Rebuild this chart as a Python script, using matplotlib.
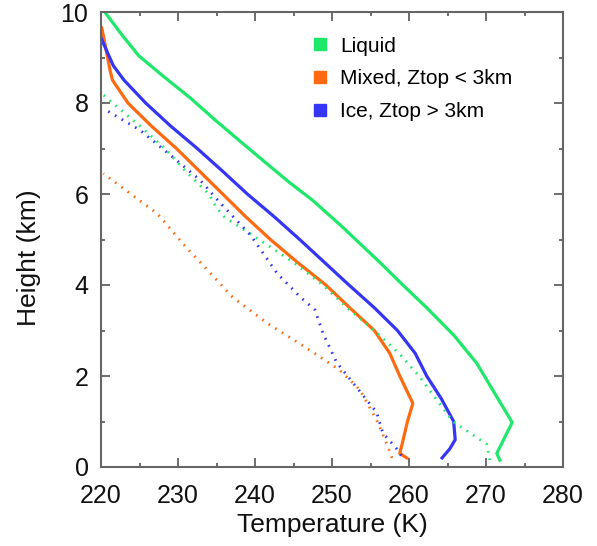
import numpy as np
import matplotlib.pyplot as plt
from matplotlib.lines import Line2D
from matplotlib.ticker import MultipleLocator

plt.rcParams['font.family'] = ['Liberation Sans', 'DejaVu Sans']

green = "#1ee86a"
orange = "#ff6a10"
blue = "#3535f5"

# solid profiles
liq_h = [0.15, 0.3, 0.98, 1.6, 2.28, 2.9, 3.5, 4.0, 4.5, 5.3, 5.86, 6.25, 6.7, 7.17, 7.6, 8.11, 8.6, 9.04, 9.5, 10.0]
liq_t = [271.8, 271.4, 273.4, 271.2, 268.8, 265.8, 262.3, 259.2, 256.2, 251.2, 247.5, 244.5, 241.3, 238.0,
         235.0, 231.6, 228.0, 224.9, 222.7, 220.5]

mix_h = [0.2, 0.3, 0.5, 1.0, 1.4, 2.0, 2.5, 3.0, 3.5, 4.0, 4.5, 5.0, 5.5, 6.0, 6.5, 7.0, 7.5, 8.0, 8.5, 8.7, 9.65]
mix_t = [259.7, 258.8, 259.1, 259.8, 260.5, 258.8, 257.5, 255.5, 252.3, 249.2, 245.5, 242.0, 238.8, 235.8,
         232.8, 229.8, 226.5, 223.5, 221.5, 221.2, 220.1]

ice_h = [0.2, 0.4, 0.6, 1.0, 1.5, 2.0, 2.5, 3.0, 3.5, 4.0, 4.5, 5.0, 5.5, 6.0, 6.5, 7.0, 7.5, 8.0, 8.5, 8.82, 9.43]
ice_t = [264.3, 265.3, 266.0, 265.8, 264.2, 262.3, 260.8, 258.5, 255.5, 252.2, 249.0, 245.8, 242.5, 239.0,
         235.8, 232.5, 229.0, 225.8, 223.0, 221.6, 220.0]

# dotted profiles
liq_d_h = [0.15, 0.5, 1.0, 1.5, 2.0, 2.5, 3.0, 3.5, 4.0, 4.5, 5.0, 5.5, 5.7, 6.0, 6.5, 7.0, 7.5, 8.0, 8.18]
liq_d_t = [270.5, 270.1, 265.7, 263.5, 261.3, 258.7, 255.5, 252.0, 248.8, 245.0, 240.5, 236.0, 235.0, 234.0,
           231.0, 228.3, 225.0, 221.5, 220.3]

ice_d_h = [0.25, 0.4, 0.75, 1.2, 1.75, 2.3, 2.95, 3.45, 3.75, 4.25, 5.1, 5.8, 6.3, 6.8, 7.4, 7.88]
ice_d_t = [259.0, 258.4, 256.6, 255.8, 253.2, 250.6, 248.8, 247.8, 245.8, 242.9, 239.4, 235.5, 232.9, 229.4,
           225.1, 220.3]

mix_d_h = [0.2, 0.6, 1.03, 1.7, 2.13, 2.57, 3.16, 3.73, 4.5, 4.8, 5.57, 6.45]
mix_d_t = [257.8, 256.9, 255.8, 253.6, 251.0, 247.1, 241.6, 237.1, 232.9, 231.2, 227.3, 220.3]

labels = ["Liquid", "Mixed, Ztop < 3km", "Ice, Ztop > 3km"]

fig = plt.figure(figsize=(5.97, 5.46), dpi=100)
ax = fig.add_axes([101 / 597, 79 / 546, 462 / 597, 455 / 546])

ax.plot(liq_t, liq_h, color=green, lw=2.3)
ax.plot(mix_t, mix_h, color=orange, lw=2.3)
ax.plot(ice_t, ice_h, color=blue, lw=2.3)

dots = (0, (0.6, 2.2))
ax.plot(liq_d_t, liq_d_h, color=green, lw=2, ls=dots)
ax.plot(mix_d_t, mix_d_h, color=orange, lw=2, ls=dots)
ax.plot(ice_d_t, ice_d_h, color=blue, lw=2, ls=dots)

ax.set_xlim(220, 280)
ax.set_ylim(0, 10)
ax.xaxis.set_major_locator(MultipleLocator(10))
ax.xaxis.set_minor_locator(MultipleLocator(5))
ax.yaxis.set_major_locator(MultipleLocator(2))
ax.yaxis.set_minor_locator(MultipleLocator(1))
ax.tick_params(which='both', direction='in', top=True, right=True, labelsize=18, color='#555555',
               labelcolor='#111111')
ax.tick_params(which='major', length=6.5, width=1.2)
ax.tick_params(axis='x', which='major', pad=12)
ax.tick_params(axis='y', which='major', pad=9)
ax.tick_params(which='minor', length=3.2, width=1.2)
for s in ax.spines.values():
    s.set_color('#666666')
    s.set_linewidth(1.5)

ax.set_xlabel("Temperature (K)", fontsize=19, color='#111111')
ax.xaxis.set_label_coords(0.5, -0.102)
ax.set_ylabel("Height (km)", fontsize=19, color='#111111')
ax.yaxis.set_label_coords(-0.13, 0.46)

handles = [Line2D([], [], ls='none', marker='s', markersize=8.6, color=c) for c in [green, orange, blue]]
ax.legend(handles, labels, loc='upper left', bbox_to_anchor=(0.4515, 0.946), frameon=False,
          fontsize=15, handlelength=1.0, handletextpad=0.46, labelspacing=0.66,
          borderpad=0, borderaxespad=0)

fig.savefig("out.png", dpi=100)
